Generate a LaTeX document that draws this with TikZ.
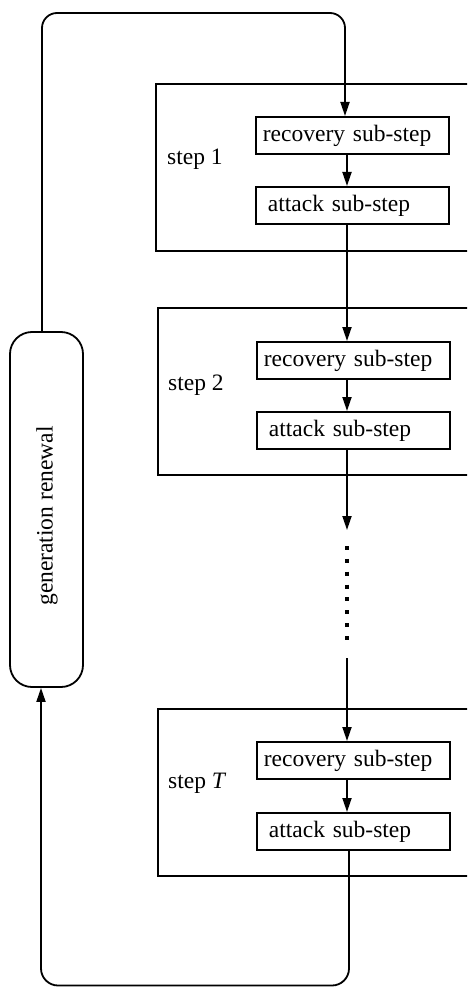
\documentclass[tikz,border=0pt]{standalone}
\usepackage{fontspec}
\setmainfont{Liberation Serif}
\usetikzlibrary{arrows.meta,calc}

\tikzset{
  flow/.style={line width=1.8pt, -{Triangle[length=14pt,width=9pt]}},
  wire/.style={line width=1.8pt},
  stepframe/.style={draw, line width=1.8pt, anchor=north west, minimum width=380pt, minimum height=167pt, inner sep=0pt},
  subbox/.style={draw, line width=1.8pt, anchor=north west, minimum width=193pt, minimum height=37pt,
                 text width=#1, align=left, inner ysep=0pt},
  recbox/.style={subbox=179pt, inner xsep=7pt},
  attbox/.style={subbox=169pt, inner xsep=12pt},
  steplabel/.style={anchor=west, inner sep=0pt},
}

\begin{document}
\begin{tikzpicture}[x=1pt, y=-1pt, font=\fontsize{23.5}{26}\selectfont]
  \useasboundingbox (0,0) rectangle (467,987);
  \clip (0,0) rectangle (467,987);

  % column for the vertical flow and for the feedback loop
  \coordinate (C) at (347,0);
  \coordinate (L) at (42,0);

  % step 1
  \node[stepframe] (s1) at (155,83) {};
  \node[steplabel] (l1) at (167,159) {step 1};
  \node[recbox] (r1) at (255,116) {recovery sub-step};
  \node[attbox] (a1) at (255,186) {attack sub-step};

  % step 2
  \node[stepframe] (s2) at (157,307) {};
  \node[steplabel] (l2) at (168,385) {step 2};
  \node[recbox] (r2) at (256,341) {recovery sub-step};
  \node[attbox] (a2) at (256,411) {attack sub-step};

  % step T
  \node[stepframe] (sT) at (157,708) {};
  \node[steplabel] (lT) at (168,783) {step \textit{T}};
  \node[recbox] (rT) at (256,741) {recovery sub-step};
  \node[attbox] (aT) at (256,812) {attack sub-step};

  % generation renewal
  \node[draw, line width=1.8pt, rounded corners=22pt, minimum width=73pt, minimum height=355pt,
        inner sep=0pt] (gen) at (46.5,509.5) {};
  \node[rotate=90, inner sep=0pt] (genlabel) at (47,516) {generation renewal};

  % ellipsis between step 2 and step T
  \coordinate (d1) at (347,530);
  \coordinate (d2) at (347,546);
  \coordinate (d3) at (347,641);
  \coordinate (d4) at (347,658);

  % vertical flow
  \draw[flow] (r1.south -| C) -- (a1.north -| C);
  \draw[flow] (a1.south -| C) -- (r2.north -| C);
  \draw[flow] (r2.south -| C) -- (a2.north -| C);
  \draw[flow] (a2.south -| C) -- (d1);
  \draw[line width=4pt, dash pattern=on 4pt off 8.86pt] (d2) -- (d3);
  \draw[flow] (d4) -- (rT.north -| C);
  \draw[flow] (rT.south -| C) -- (aT.north -| C);

  % feedback loop
  \coordinate (top) at (0,13);
  \coordinate (bot) at (0,985.5);
  \draw[flow, rounded corners=15pt] (gen.north -| L) -- (L |- top) -- ($(C |- top)+(-2,0)$) -- ($(r1.north -| C)+(-2,0)$);
  \draw[flow, rounded corners=17pt] ($(aT.south -| C)+(2,0)$) -- ($(C |- bot)+(2,0)$) -- ($(L |- bot)+(-1,0)$) -- ($(gen.south -| L)+(-1,0)$);
\end{tikzpicture}
\end{document}
